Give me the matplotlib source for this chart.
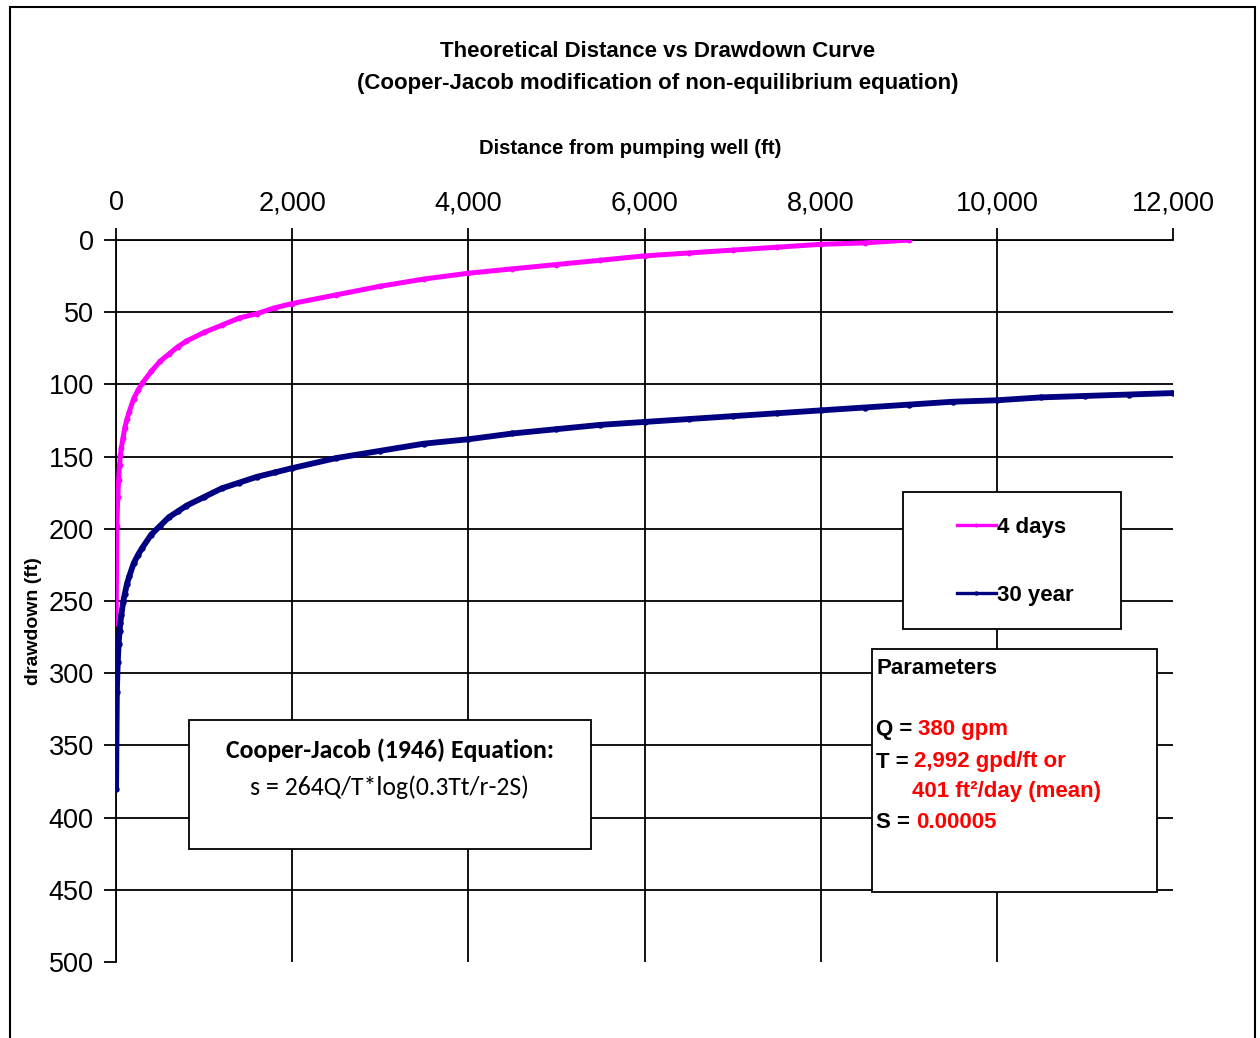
import matplotlib
matplotlib.use("Agg")
import matplotlib.pyplot as plt
from matplotlib.patches import Rectangle
from matplotlib.ticker import StrMethodFormatter
from matplotlib import font_manager

# ---------------- data ----------------
dist_4d = [1, 10, 20, 30, 40, 50, 60, 80, 100, 125, 150, 200, 250, 300, 400, 500,
           600, 700, 800, 1000, 1200, 1400, 1600, 1800, 2000, 2500, 3000, 3500,
           4000, 4500, 5000, 5500, 6000, 6500, 7000, 7500, 8000, 8500, 9000]
dd_4d = [265, 198, 178, 166, 156, 149, 144, 137, 130, 124, 119, 110, 104, 99, 91, 84,
         79, 74, 70, 64, 59, 54, 51, 47, 44, 38, 32, 27,
         23, 20, 17, 14, 11, 9, 7, 5, 3, 2, 0]

dist_30y = [1, 10, 20, 30, 40, 50, 60, 80, 100, 125, 150, 200, 250, 300, 400, 500,
            600, 700, 800, 1000, 1200, 1400, 1600, 1800, 2000, 2500, 3000, 3500,
            4000, 4500, 5000, 5500, 6000, 6500, 7000, 7500, 8000, 8500, 9000,
            9500, 10000, 10500, 11000, 11500, 12000]
dd_30y = [380, 313, 292, 280, 271, 265, 260, 251, 245, 238, 233, 224, 218, 213, 204, 198,
          192, 188, 184, 178, 172, 168, 164, 161, 158, 151, 146, 141,
          138, 134, 131, 128, 126, 124, 122, 120, 118, 116, 114,
          112, 111, 109, 108, 107, 106]

series_labels = ["4 days", "30 year"]
x_ticks = [0, 2000, 4000, 6000, 8000, 10000, 12000]
y_ticks = [0, 50, 100, 150, 200, 250, 300, 350, 400, 450, 500]

# ---------------- fonts ----------------
avail = {f.name for f in font_manager.fontManager.ttflist}
NARROW = "Liberation Sans Narrow" if "Liberation Sans Narrow" in avail else "Liberation Sans"
SANS = "Liberation Sans"
CAL = "Carlito" if "Carlito" in avail else "Lato"

W, H = 1260, 1038
fig = plt.figure(figsize=(W / 100, H / 100), dpi=100)
fig.patch.set_facecolor("white")

ax = fig.add_axes([116 / W, 1 - 962 / H, (1173 - 116) / W, (962 - 240) / H])

# figure border
fig.patches.append(Rectangle((10 / W, -0.02), (1255 - 10) / W, 1.02 - 7 / H,
                             transform=fig.transFigure, fill=False,
                             edgecolor="black", lw=1.5))

l1, = ax.plot(dist_4d, dd_4d, color="#FF00FF", lw=3.6, marker="o", ms=3.2,
              label=series_labels[0], zorder=3)
l2, = ax.plot(dist_30y, dd_30y, color="#000080", lw=4.2, marker="o", ms=3.6,
              label=series_labels[1], zorder=3)

ax.set_xlim(0, 12000)
ax.set_ylim(500, 0)
ax.set_xticks(x_ticks)
ax.set_yticks(y_ticks)
ax.xaxis.set_major_formatter(StrMethodFormatter("{x:,.0f}"))
ax.xaxis.tick_top()
ax.xaxis.set_label_position("top")

for s in ["right", "bottom"]:
    ax.spines[s].set_visible(False)
for s in ["left", "top"]:
    ax.spines[s].set_linewidth(1.3)
    ax.spines[s].set_color("black")

ax.tick_params(axis="x", direction="out", length=9, width=1.3, pad=8,
               labelsize=19.5)
ax.tick_params(axis="y", direction="out", length=9, width=1.3, pad=7,
               labelsize=19.5)
for lab in ax.get_xticklabels() + ax.get_yticklabels():
    lab.set_fontfamily(NARROW)

ax.grid(True, color="black", lw=1.3, zorder=0)
ax.set_axisbelow(True)
ax.xaxis.get_major_ticks()[-1].gridline.set_visible(False)
ax.yaxis.get_major_ticks()[-1].gridline.set_visible(False)

ax.set_xlabel("Distance from pumping well (ft)", fontsize=14.6, fontweight="bold",
              fontfamily=NARROW)
ax.xaxis.label.set_va("center")
ax.xaxis.set_label_coords((630 - 116) / 1057, (962 - 148) / 722)
ax.set_ylabel("drawdown (ft)", fontsize=14, fontweight="bold", fontfamily=SANS)
ax.yaxis.label.set_va("center")
ax.yaxis.set_label_coords((33 - 116) / 1057, (962 - 621) / 722)

fig.text(658 / W, 1 - 67.5 / H,
         "Theoretical Distance vs Drawdown Curve\n"
         "(Cooper-Jacob modification of non-equilibrium equation)",
         ha="center", va="center", fontsize=16, fontweight="bold",
         fontfamily=NARROW, linespacing=1.7)

# ---- boxes ----
def ax_rect(x0, y0, x1, y1, z=4):
    r = Rectangle(((x0 - 116) / 1057, (962 - y1) / 722), (x1 - x0) / 1057,
                  (y1 - y0) / 722, transform=ax.transAxes, facecolor="white",
                  edgecolor="black", lw=1.3, zorder=z)
    ax.add_patch(r)

ax_rect(903, 492, 1121, 629)
leg = ax.legend(handles=[l1, l2], loc="center",
                bbox_to_anchor=((1015 - 116) / 1057, (962 - 561.5) / 722),
                frameon=False, labelspacing=2.1, handlelength=1.75,
                handletextpad=0.05, numpoints=1, markerscale=0.6,
                prop={"family": NARROW, "weight": "bold", "size": 16})
leg.set_zorder(6)
for h in leg.legend_handles:
    h.set_linewidth(2.4)

ax_rect(872, 649, 1157, 892)
def ftxt(px, py, s, color="black", ha="left", **kw):
    fig.text(px / W, 1 - py / H, s, ha=ha, va="center", color=color,
             fontfamily=NARROW, fontweight="bold", fontsize=16, zorder=7, **kw)

ftxt(876, 668, "Parameters")
ftxt(876, 730, "Q =")
ftxt(918, 730, "380 gpm", color="#FF0000")
ftxt(876, 762, "T =")
ftxt(914, 762, "2,992 gpd/ft or", color="#FF0000")
ftxt(912, 792, "401 ft\u00b2/day (mean)", color="#FF0000")
ftxt(876, 823, "S =")
ftxt(916, 823, "0.00005", color="#FF0000")

ax_rect(189, 720, 591, 849)
fig.text(390 / W, 1 - 750 / H, "Cooper-Jacob (1946) Equation:", ha="center",
         va="center", fontfamily=CAL, fontweight="bold", fontsize=18.5, zorder=7)
fig.text(389 / W, 1 - 787 / H, "s = 264Q/T*log(0.3Tt/r-2S)", ha="center",
         va="center", fontfamily=CAL, fontsize=18.5, zorder=7)

fig.savefig("out.png", dpi=100, facecolor="white")
